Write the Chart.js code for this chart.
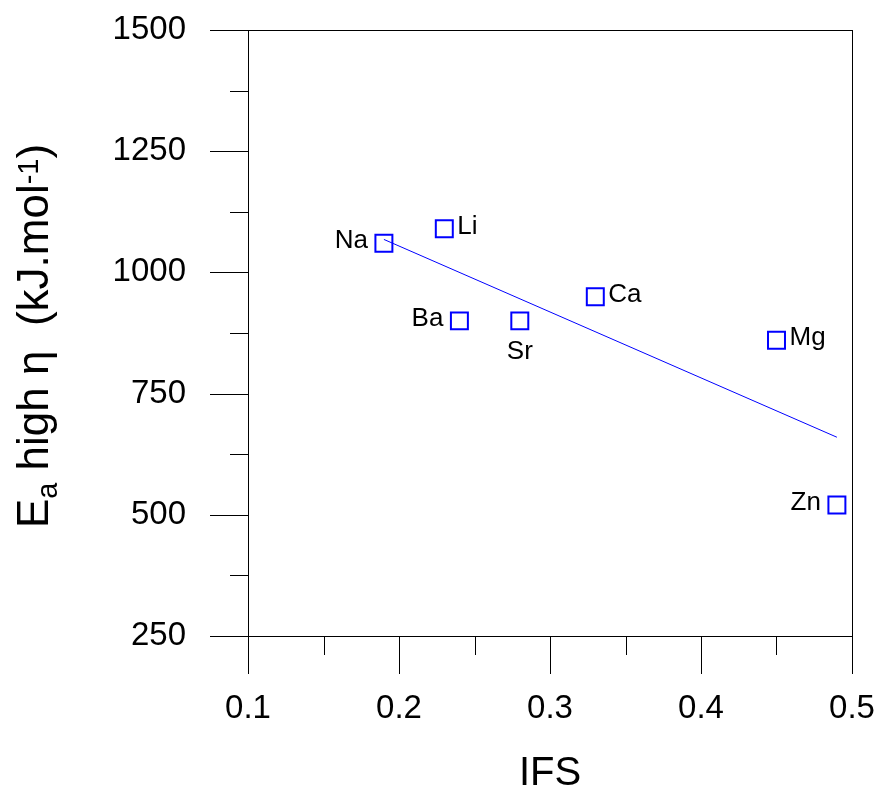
<!DOCTYPE html>
<html>
<head>
<meta charset="utf-8">
<script src="https://cdn.jsdelivr.net/npm/chart.js@4.4.1/dist/chart.umd.min.js"></script>
<style>
  body { margin: 0; background: #fff; }
  canvas { display: block; }
</style>
</head>
<body>
<canvas id="chart" width="880" height="798"></canvas>
<script>
const elements = ['Na', 'Li', 'Ba', 'Sr', 'Ca', 'Mg', 'Zn'];
const ifs = [0.19, 0.23, 0.24, 0.28, 0.33, 0.45, 0.49];
const eaHigh = [1060, 1090, 900, 900, 950, 860, 520];
// straight fit line, end points
const fitX = [0.19, 0.49];
const fitY = [1068, 660];
// where each element name sits relative to its marker
const labelSide = ['left', 'right', 'left', 'below', 'right', 'right', 'left'];

const FONT = '"Liberation Sans", Arial, Helvetica, sans-serif';
const blue = '#0000ff';

const isMajorX = v => Math.abs(Math.round(v * 100) % 10) === 0;
const isMajorY = v => v % 250 === 0;

// frame, tick marks, point labels and y title
const decorations = {
    id: 'decorations',
    beforeDatasetsDraw(chart) {
        const { ctx, chartArea: a, scales: { x, y } } = chart;
        ctx.save();
        ctx.strokeStyle = '#000';
        ctx.lineWidth = 1;
        ctx.strokeRect(a.left + 0.5, a.top + 0.5, a.right - a.left, a.bottom - a.top);
        ctx.beginPath();
        y.ticks.forEach(t => {
            const py = Math.round(y.getPixelForValue(t.value)) + 0.5;
            const len = isMajorY(t.value) ? 38 : 18;
            ctx.moveTo(a.left - len, py);
            ctx.lineTo(a.left, py);
        });
        x.ticks.forEach(t => {
            const px = Math.round(x.getPixelForValue(t.value)) + 0.5;
            const len = isMajorX(t.value) ? 38 : 19;
            ctx.moveTo(px, a.bottom);
            ctx.lineTo(px, a.bottom + len);
        });
        ctx.stroke();
        ctx.restore();
    },
    afterDraw(chart) {
        const { ctx } = chart;
        const meta = chart.getDatasetMeta(1);
        ctx.save();
        ctx.fillStyle = '#000';
        ctx.font = '26px ' + FONT;
        ctx.textBaseline = 'middle';
        meta.data.forEach((pt, i) => {
            const side = labelSide[i];
            if (side === 'left') {
                ctx.textAlign = 'right';
                ctx.fillText(elements[i], pt.x - 16, pt.y - 2);
            } else if (side === 'right') {
                ctx.textAlign = 'left';
                ctx.fillText(elements[i], pt.x + 13, pt.y - 2);
            } else {
                ctx.textAlign = 'center';
                ctx.fillText(elements[i], pt.x, pt.y + 31);
            }
        });

        // y axis title with subscript and superscript
        const big = '44px ' + FONT;
        const small = '29px ' + FONT;
        const parts = [
            { t: 'E', f: big, dy: 0 },
            { t: 'a', f: small, dy: 9 },
            { t: ' high \u03b7  (kJ.mol', f: big, dy: 0 },
            { t: '-1', f: small, dy: -10 },
            { t: ')', f: big, dy: 0 }
        ];
        let total = 0;
        parts.forEach(p => { ctx.font = p.f; p.w = ctx.measureText(p.t).width; total += p.w; });
        ctx.translate(48, 336);
        ctx.rotate(-Math.PI / 2);
        ctx.textAlign = 'left';
        ctx.textBaseline = 'alphabetic';
        let cx = -total / 2;
        parts.forEach(p => {
            ctx.font = p.f;
            ctx.fillText(p.t, cx, p.dy);
            cx += p.w;
        });
        ctx.restore();
    }
};

new Chart(document.getElementById('chart'), {
    type: 'scatter',
    data: {
        datasets: [
            {
                type: 'line',
                label: 'fit',
                data: fitX.map((v, i) => ({ x: v, y: fitY[i] })),
                borderColor: blue,
                borderWidth: 1,
                pointRadius: 0,
                fill: false
            },
            {
                label: 'Ea high',
                data: ifs.map((v, i) => ({ x: v, y: eaHigh[i] })),
                pointStyle: 'rect',
                pointRadius: 12,
                pointBorderWidth: 2,
                borderColor: blue,
                backgroundColor: 'rgba(255,255,255,0)',
                clip: false
            }
        ]
    },
    options: {
        responsive: false,
        animation: false,
        layout: { padding: { top: 30, right: 28, left: 0, bottom: 0 } },
        plugins: { legend: { display: false }, tooltip: { enabled: false } },
        scales: {
            x: {
                type: 'linear',
                min: 0.1,
                max: 0.5,
                afterFit: s => { s.height = 162; },
                border: { display: false },
                grid: { display: true, drawOnChartArea: false, color: 'rgba(0,0,0,0)', tickLength: 53 },
                ticks: {
                    stepSize: 0.05,
                    autoSkip: false,
                    maxRotation: 0,
                    padding: 0,
                    color: '#000',
                    font: { family: FONT, size: 33 },
                    callback: v => isMajorX(v) ? (Math.round(v * 10) / 10).toString() : ''
                },
                title: {
                    display: true,
                    text: 'IFS',
                    color: '#000',
                    padding: { top: 0, bottom: 0 },
                    font: { family: FONT, size: 40 }
                }
            },
            y: {
                type: 'linear',
                min: 250,
                max: 1500,
                afterFit: s => { s.width = 248; },
                border: { display: false },
                grid: { display: true, drawOnChartArea: false, color: 'rgba(0,0,0,0)', tickLength: 62 },
                ticks: {
                    stepSize: 125,
                    autoSkip: false,
                    padding: 0,
                    color: '#000',
                    font: { family: FONT, size: 33 },
                    callback: v => isMajorY(v) ? String(v) : ''
                }
            }
        }
    },
    plugins: [decorations]
});
</script>
</body>
</html>
